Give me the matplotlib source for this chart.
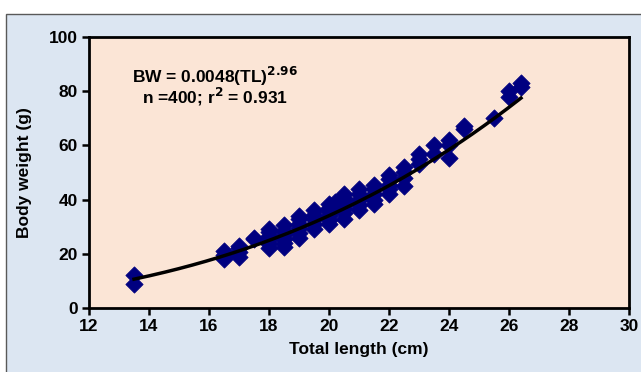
import numpy as np
import matplotlib
matplotlib.use("Agg")
import matplotlib.pyplot as plt
from matplotlib.patches import Rectangle

plt.rcParams['font.family'] = ['Liberation Sans', 'DejaVu Sans']
plt.rcParams['font.weight'] = 'bold'

# longitud total (cm) y peso (g)
longitud = [13.5, 13.5,
            16.5, 16.5, 16.5,
            17.0, 17.0, 17.0, 17.0,
            17.5, 17.5,
            18.0, 18.0, 18.0, 18.0, 18.0, 18.0,
            18.5, 18.5, 18.5, 18.5, 18.5, 18.5,
            19.0, 19.0, 19.0, 19.0, 19.0, 19.0,
            19.5, 19.5, 19.5, 19.5, 19.5,
            20.0, 20.0, 20.0, 20.0, 20.0, 20.0,
            20.2, 20.2,
            20.5, 20.5, 20.5, 20.5, 20.5, 20.5,
            21.0, 21.0, 21.0, 21.0, 21.0,
            21.5, 21.5, 21.5, 21.5, 21.5,
            22.0, 22.0, 22.0, 22.0, 22.0,
            22.5, 22.5, 22.5, 22.5,
            23.0, 23.0, 23.0,
            23.5, 23.5,
            24.0, 24.0, 24.0,
            24.5, 24.5,
            25.5,
            26.0, 26.0,
            26.4, 26.4]
peso = [12, 8.7,
        18, 19.5, 21,
        19, 20.5, 22, 23,
        25.5, 26,
        22, 23.5, 25, 26.5, 28, 29,
        22.5, 24, 25.5, 27, 28.5, 30.5,
        26, 27.5, 29.5, 31, 33, 34,
        29, 31, 33, 34.5, 36,
        31, 32.5, 34, 35.5, 37, 38.5,
        37, 39,
        33, 35, 37, 39, 40.5, 42,
        36, 38, 40, 42, 44,
        38.5, 40, 42, 44, 45.5,
        42, 44, 45.5, 47.5, 49,
        45, 48, 50, 52,
        53, 55, 57,
        57, 60,
        55.5, 60, 62,
        66, 67,
        70,
        78, 80,
        81.5, 83]

# parametros de la curva BW = a * TL^b
a = 0.0048
b = 2.96
tl_min = 13.5
tl_max = 26.4

fig = plt.figure(figsize=(6.41, 3.72), dpi=100)
fig.patch.set_facecolor('white')
fondo = Rectangle((6 / 641, -0.05), 1.0, (372 - 14) / 372 + 0.05,
                  transform=fig.transFigure, facecolor='#dce6f2',
                  edgecolor='#595959', linewidth=1.0, zorder=-10)
fig.patches.append(fondo)

ax = fig.add_axes([89 / 641, 64 / 372, 540 / 641, 271 / 372])
ax.set_facecolor('#fbe5d6')

ax.scatter(longitud, peso, marker='D', s=78, color='#000080',
           edgecolors='#000080', linewidths=0.5, zorder=3)

tl = np.linspace(tl_min, tl_max, 200)
ax.plot(tl, a * tl ** b, color='black', linewidth=2.5, zorder=4)

ax.set_xlim(12, 30)
ax.set_ylim(0, 100)
ax.set_xticks(range(12, 31, 2))
ax.set_yticks(range(0, 101, 20))
ax.tick_params(direction='out', length=5, width=1.8, labelsize=12.5,
               colors='black', pad=3)
for lbl in ax.get_xticklabels() + ax.get_yticklabels():
    lbl.set_fontweight('bold')
for sp in ax.spines.values():
    sp.set_linewidth(2)
    sp.set_color('black')

ax.set_xlabel("Total length (cm)", fontsize=12.5, fontweight='bold', labelpad=6)
ax.set_ylabel("Body weight (g)", fontsize=12.5, fontweight='bold', labelpad=12)

ax.text(16.2, 85.5, r"BW = 0.0048(TL)$^{\mathbf{2.96}}$", fontsize=12.5,
        fontweight='bold', ha='center', va='center')
ax.text(16.2, 78.0, r"n =400; r$^{\mathbf{2}}$ = 0.931", fontsize=12.5,
        fontweight='bold', ha='center', va='center')

fig.savefig("out.png", dpi=100)
